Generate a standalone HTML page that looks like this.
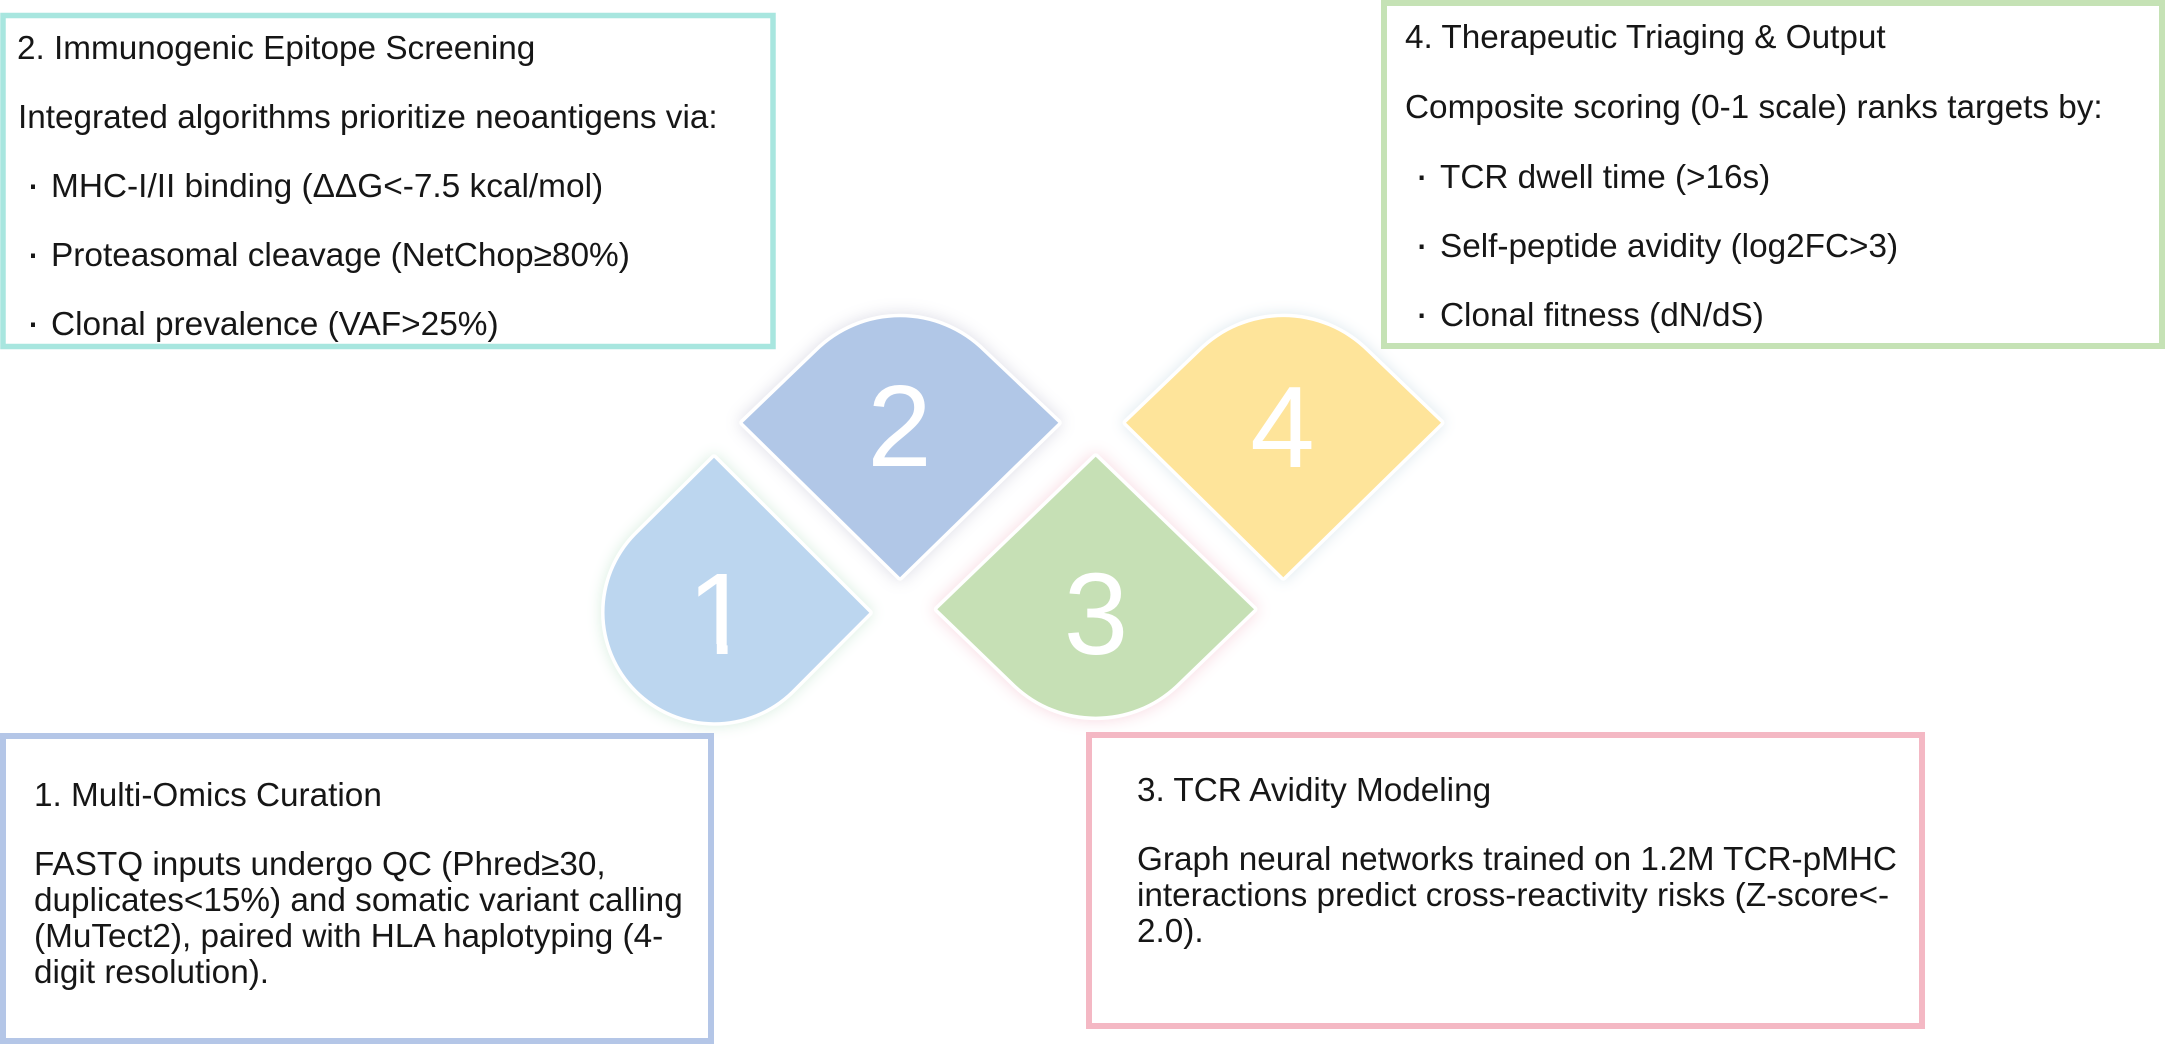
<!DOCTYPE html>
<html><head><meta charset="utf-8"><style>
html,body{margin:0;padding:0;background:#fff}
svg{display:block}
text{font-family:"Liberation Sans",Arial,sans-serif}
.t{font-size:33.3px;fill:#161616}
.b{font-size:42px;fill:#161616}
.n{font-size:116px;fill:#fff;text-anchor:middle}
.s{stroke:#fff;stroke-width:7;paint-order:stroke;stroke-linejoin:round}
</style></head><body>
<svg width="2165" height="1044" viewBox="0 0 2165 1044" xmlns="http://www.w3.org/2000/svg">
<rect width="2165" height="1044" fill="#fff"/>
<path class="s" style="filter:drop-shadow(0 0 7px #d9eee0)" d="M714,457.7 L869.3,612.7 L791.3,691 A110,110 0 0 1 635.7,535.5 Z" fill="#BCD6EF"/>
<path class="s" style="filter:drop-shadow(0 0 8px #dcdce6)" d="M742.7,422.7 L816.6,351.8 A118,118 0 0 1 983.4,351.8 L1058.3,422.7 L900,577.3 Z" fill="#B1C7E7"/>
<path class="s" style="filter:drop-shadow(0 0 8px #f8d8e0)" d="M1095.7,456.7 L1254,609.3 L1175.7,685 A117,117 0 0 1 1015.7,685 L937.3,609.3 Z" fill="#C6E0B5"/>
<path class="s" style="filter:drop-shadow(0 0 7px #dde8ee)" d="M1126,422.7 L1200,351.8 A118,118 0 0 1 1367,351.8 L1441,422.7 L1283.3,577.3 Z" fill="#FEE49A"/>
<text class="n" x="719.5" y="654">1</text>
<rect x="680" y="644" width="36.8" height="12" fill="#BCD6EF"/>
<rect x="727.6" y="644" width="24" height="12" fill="#BCD6EF"/>
<text class="n" x="899.5" y="466">2</text>
<text class="n" x="1096" y="654">3</text>
<text class="n" x="1282.5" y="467">4</text>

<rect x="3" y="15.5" width="770" height="331" fill="#fff" stroke="#A8E6DF" stroke-width="5.5"/>
<rect x="1384" y="3" width="778" height="343" fill="#fff" stroke="#C5E2B5" stroke-width="6"/>
<rect x="3" y="736" width="708" height="305" fill="#fff" stroke="#B4C6E7" stroke-width="6"/>
<rect x="1089" y="735" width="833" height="291" fill="#fff" stroke="#F4B8C4" stroke-width="6"/>

<text class="t" x="17" y="59">2. Immunogenic Epitope Screening</text>
<text class="t" x="18" y="128">Integrated algorithms prioritize neoantigens via:</text>
<text class="b" x="26" y="198">·</text><text class="t" x="51" y="197" style="font-size:33.4px">MHC-I/II binding (ΔΔG&lt;-7.5 kcal/mol)</text>
<text class="b" x="26" y="267">·</text><text class="t" x="51" y="266" style="font-size:33.4px">Proteasomal cleavage (NetChop≥80%)</text>
<text class="b" x="26" y="336">·</text><text class="t" x="51" y="335" style="font-size:33.4px">Clonal prevalence (VAF&gt;25%)</text>

<text class="t" x="1405" y="48">4. Therapeutic Triaging &amp; Output</text>
<text class="t" x="1405" y="118">Composite scoring (0-1 scale) ranks targets by:</text>
<text class="b" x="1414.6" y="189">·</text><text class="t" x="1440" y="188">TCR dwell time (&gt;16s)</text>
<text class="b" x="1414.6" y="258">·</text><text class="t" x="1440" y="257">Self-peptide avidity (log2FC&gt;3)</text>
<text class="b" x="1414.6" y="327">·</text><text class="t" x="1440" y="326">Clonal fitness (dN/dS)</text>

<text class="t" x="34" y="806">1. Multi-Omics Curation</text>
<text class="t" x="34" y="875">FASTQ inputs undergo QC (Phred≥30,</text>
<text class="t" x="34" y="911">duplicates&lt;15%) and somatic variant calling</text>
<text class="t" x="34" y="947">(MuTect2), paired with HLA haplotyping (4-</text>
<text class="t" x="34" y="983">digit resolution).</text>

<text class="t" x="1137" y="801">3. TCR Avidity Modeling</text>
<text class="t" x="1137" y="870">Graph neural networks trained on 1.2M TCR-pMHC</text>
<text class="t" x="1137" y="906">interactions predict cross-reactivity risks (Z-score&lt;-</text>
<text class="t" x="1137" y="942">2.0).</text>
</svg>
</body></html>
